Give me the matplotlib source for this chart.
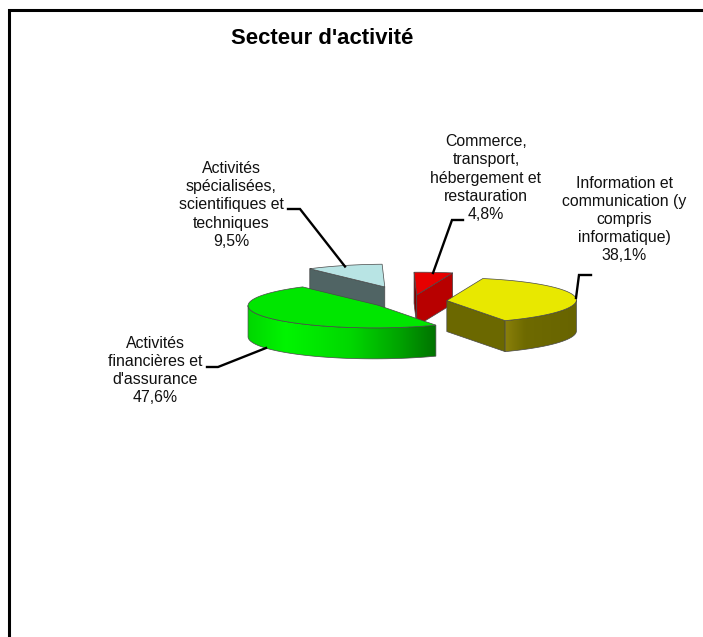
import numpy as np
import matplotlib
matplotlib.use("Agg")
import matplotlib.pyplot as plt
from matplotlib.patches import Polygon

plt.rcParams['font.family'] = ['Liberation Sans', 'DejaVu Sans']

title = "Secteur d'activité"

# clockwise order, starting with the yellow slice
categories = [
    "Information et\ncommunication (y\ncompris\ninformatique)",
    "Activités\nfinancières et\nd'assurance",
    "Activités\nspécialisées,\nscientifiques et\ntechniques",
    "Commerce,\ntransport,\nhébergement et\nrestauration",
]
shares = [38.1, 47.6, 9.5, 4.8]
share_labels = ["38,1%", "47,6%", "9,5%", "4,8%"]

# flattened disc: point at angle phi is CENTER + AX_B*cos(phi) + AX_A*sin(phi)
CENTER = np.array([412.0, 301.3])
AX_B = np.array([129.0, -2.7])
AX_A = np.array([12.0, 22.6])
DEPTH = 31

explode = [0.27, 0.31, 0.67, 0.28]
top_colors = ["#e8e800", "#00e600", "#b8e4e4", "#e60000"]
# colours of the radial faces: (start edge, end edge)
face_colors = [("#6b6800", "#6b6800"), ("#007000", "#007000"),
               ("#506464", "#506464"), ("#820000", "#b80000")]
# colour along the outer rim, left to right (fraction of its width)
rim_stops = [
    ([0, 0.28, 1], ["#8a800a", "#6e6a00", "#686400"]),
    ([0, 0.2, 0.55, 0.8, 1], ["#00d700", "#00f500", "#00d700", "#00a500", "#007300"]),
    ([0, 1], ["#506464", "#506464"]),
    ([0, 1], ["#b80000", "#b80000"]),
]
draw_order = [2, 3, 0, 1]
EDGE = "#484848"

# label centres and leader lines, in pixels
label_pos = [(624, 219.5), (155, 370.5), (231, 205), (486, 178)]
leaders = [
    [(576, 298), (579, 275), (591, 275)],
    [(266, 348), (218, 367), (207, 367)],
    [(345, 266.5), (300, 209), (288, 209)],
    [(433, 273), (452, 220), (463, 220)],
]


def disc(phi):
    phi = np.radians(phi)
    return np.outer(np.cos(phi), AX_B) + np.outer(np.sin(phi), AX_A)


def gradient(stops, n=200):
    pos, cols = stops
    rgb = np.array([matplotlib.colors.to_rgb(c) for c in cols])
    frac = np.linspace(0, 1, n)
    return np.dstack([np.interp(frac, pos, rgb[:, i]) for i in range(3)])


fig = plt.figure(figsize=(7.03, 6.37), dpi=100)
ax = fig.add_axes([0, 0, 1, 1])
ax.axis("off")

# chart frame: only top and left are inside the picture
ax.plot([9, 9, 703], [637, 10, 10], color="black", lw=2.2, solid_joinstyle="miter")

spans = np.array(shares) * 3.6
starts = -spans[0] / 2 + np.concatenate([[0], np.cumsum(spans)[:-1]])
down = np.array([0, DEPTH])

# zorder follows the drawing order, images would sink below patches otherwise
z = 2
for i in draw_order:
    phi = np.linspace(starts[i], starts[i] + spans[i], 90)
    mid = starts[i] + spans[i] / 2
    apex = CENTER + explode[i] * disc(np.array([mid]))[0]
    rim = apex + disc(phi)

    # radial faces that look towards the viewer
    for p, q, col in [(apex, rim[0], face_colors[i][0]), (rim[-1], apex, face_colors[i][1])]:
        if q[0] < p[0]:
            ax.add_patch(Polygon([p, q, q + down, p + down], closed=True, fc=col, ec=EDGE, lw=0.5, zorder=z))
            z += 1

    # outer rim, front part only, filled with a horizontal gradient
    front = np.nonzero(np.diff(rim[:, 0]) < 0)[0]
    if len(front):
        upper = np.vstack([rim[front], rim[front[-1] + 1]])
        side = Polygon(np.vstack([upper, (upper + down)[::-1]]), closed=True, fc="none", ec=EDGE, lw=0.5, zorder=z + 1)
        ax.add_patch(side)
        im = ax.imshow(gradient(rim_stops[i]), aspect="auto", interpolation="bilinear", zorder=z,
                       extent=[upper[:, 0].min(), upper[:, 0].max(), upper[:, 1].max() + DEPTH, upper[:, 1].min()])
        im.set_clip_path(side)
        z += 2

    ax.add_patch(Polygon(np.vstack([apex, rim]), closed=True, fc=top_colors[i], ec=EDGE, lw=0.5, zorder=z))
    z += 1

for line in leaders:
    xs, ys = zip(*line)
    ax.plot(xs, ys, color="black", lw=1.7, solid_joinstyle="miter", zorder=z)

for cat, pct, (x, y) in zip(categories, share_labels, label_pos):
    ax.text(x, y, cat + "\n" + pct, ha="center", va="center", fontsize=11.4,
            linespacing=1.27, color="#111111", zorder=z)

ax.text(322, 38, title, ha="center", va="center", fontsize=15.9, fontweight="bold", color="black", zorder=z)

ax.set_xlim(0, 703)
ax.set_ylim(637, 0)

fig.savefig("out.png", dpi=100)
